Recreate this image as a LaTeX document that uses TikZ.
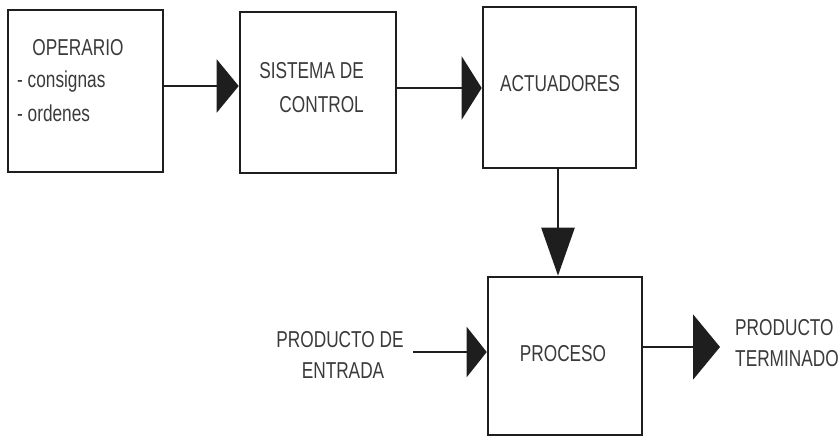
\documentclass[tikz,border=0pt]{standalone}
\usepackage{fontspec}
\setmainfont{Liberation Sans}[FakeStretch=0.75]
\usetikzlibrary{arrows.meta}
\definecolor{ink}{HTML}{1E1E1E}
\definecolor{txt}{HTML}{3A3A3A}
\begin{document}
\begin{tikzpicture}[x=1pt,y=-1pt,
  block/.style={draw=ink, line width=2.6pt, inner sep=0pt, fill=none},
  lbl/.style={text=txt, inner sep=0pt, font=\fontsize{23}{26}\selectfont},
  conn/.style={draw=ink, line width=2.6pt}]
  \useasboundingbox (0,0) rectangle (840,439);

  % blocks
  \node[block, minimum width=155pt, minimum height=162pt] (op)  at (85.5,91)   {};
  \node[block, minimum width=156pt, minimum height=161pt] (sc)  at (318,92.5)  {};
  \node[block, minimum width=153pt, minimum height=161pt] (act) at (559.5,87.5) {};
  \node[block, minimum width=154pt, minimum height=158pt] (pro) at (565,356)   {};

  % block texts
  \node[lbl, anchor=base]       (tOp)  at (78,55)   {OPERARIO};
  \node[lbl, anchor=base west]  (tCon) at (17,87)   {- consignas};
  \node[lbl, anchor=base west]  (tOrd) at (17,121)  {- ordenes};
  \node[lbl, anchor=base east]  (tSis) at (364,78)  {SISTEMA DE};
  \node[lbl, anchor=base east]  (tCtl) at (364,112) {CONTROL};
  \node[lbl, anchor=base]       (tAct) at (560,91)  {ACTUADORES};
  \node[lbl, anchor=base]       (tPro) at (563,361) {PROCESO};

  % external texts
  \node[lbl, anchor=base]       (tIn1)  at (340,347) {PRODUCTO DE};
  \node[lbl, anchor=base]       (tIn2)  at (343,378) {ENTRADA};
  \node[lbl, anchor=base west]  (tOut1) at (735,335) {PRODUCTO};
  \node[lbl, anchor=base west]  (tOut2) at (735,366) {TERMINADO};

  \coordinate (inStart) at (413,352);
  \coordinate (outEnd)  at (720,347);

  % connectors
  \draw[conn, -{Triangle[length=22pt,width=53pt]}]
    ([yshift=5pt]op.east) -- ([yshift=6.5pt]sc.west);
  \draw[conn, -{Triangle[length=20pt,width=63pt]}]
    ([yshift=4.5pt]sc.east) -- ([yshift=-0.5pt]act.west);
  \draw[conn, -{Triangle[length=48pt,width=33pt]}]
    ([xshift=-1.5pt]act.south) -- ([xshift=-7pt]pro.north);
  \draw[conn, -{Triangle[length=20pt,width=50pt]}]
    (inStart) -- ([yshift=4pt]pro.west);
  \draw[conn, -{Triangle[length=27pt,width=65pt]}]
    ([yshift=9pt]pro.east) -- (outEnd);
\end{tikzpicture}
\end{document}
